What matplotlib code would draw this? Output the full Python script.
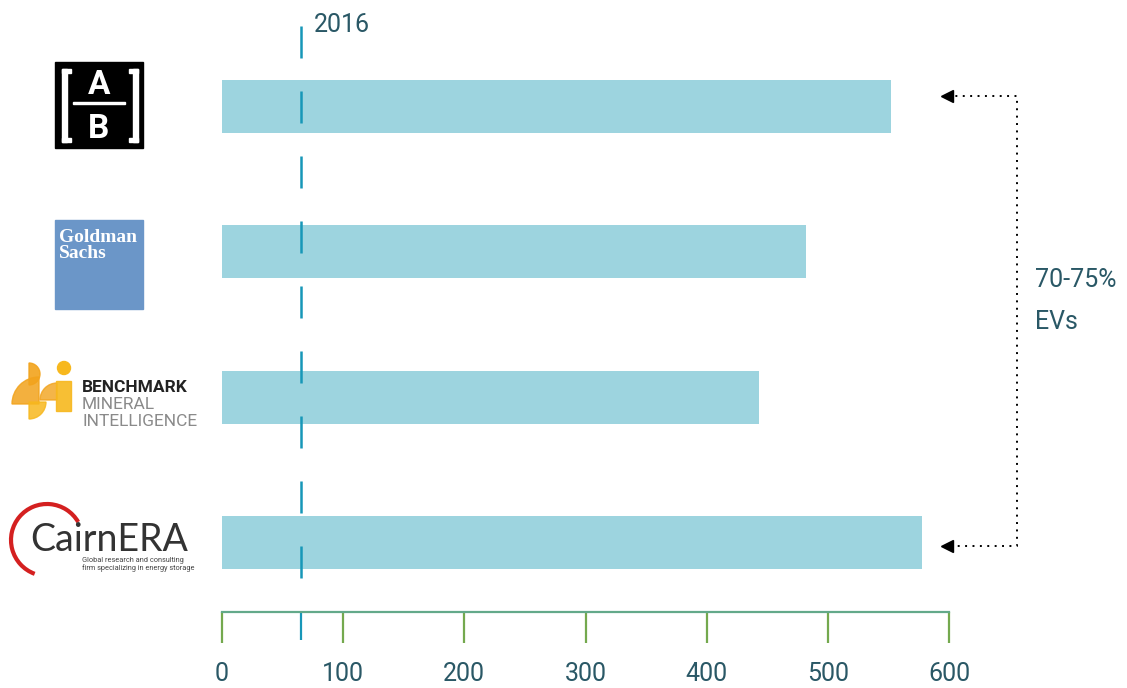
import matplotlib
matplotlib.use("Agg")
import matplotlib.pyplot as plt
from matplotlib.patches import Rectangle, Wedge, Circle, Arc

plt.rcParams['font.family'] = ['Roboto', 'DejaVu Sans']

# data
companies = ["AllianceBernstein", "Goldman Sachs", "Benchmark Mineral Intelligence", "Cairn ERA"]
demand_2030 = [552, 482, 443, 578]
year_2016 = 65
x_ticks = [0, 100, 200, 300, 400, 500, 600]
ev_note = ["70-75%", "EVs"]

W, H = 1127, 688
text_col = "#2a5866"
bar_col = "#9dd4df"
dash_col = "#1797b8"
fs = 18

fig = plt.figure(figsize=(W / 100, H / 100), dpi=100)
ax = fig.add_axes([222 / W, 76 / H, 727 / W, 612 / H])

ypos = [3, 2, 1, 0]
ax.barh(ypos, demand_2030, height=0.364, color=bar_col, zorder=1)
ax.set_xlim(0, 600)
ax.set_ylim(-0.474, 3.728)

# 2016 reference line
ax.plot([year_2016, year_2016], [-0.24, 3.55], color=dash_col, lw=1.8,
        dashes=(12.8, 13.2), zorder=3, clip_on=False)
ax.text(76, 3.556, "2016", color=text_col, fontsize=fs,
        va="center", ha="left")

# axis styling
for s in ["left", "top", "right"]:
    ax.spines[s].set_visible(False)
ax.spines["bottom"].set_color("#63a98a")
ax.spines["bottom"].set_linewidth(1.6)
ax.set_yticks([])
ax.set_xticks(x_ticks)
ax.set_xticklabels([str(t) for t in x_ticks])
ax.tick_params(axis="x", direction="out", length=22.3, width=1.6, color="#74a94e",
               pad=14, labelsize=fs, labelcolor=text_col)
ax.set_xticks([year_2016], minor=True)
ax.tick_params(axis="x", which="minor", length=20, width=1.6, color=dash_col)

# bracket annotation on the right
ax.plot([599, 656, 656, 599], [3.069, 3.069, -0.02, -0.02], color="black",
        lw=1.4, dashes=(1, 2.8), clip_on=False, zorder=4)
ax.plot([598, 598], [3.069, -0.02], marker="<", ms=9, color="black",
        ls="none", clip_on=False, zorder=5)
ax.text(671, 1.805, ev_note[0], color=text_col, fontsize=fs,
        va="center", ha="left")
ax.text(671, 1.517, ev_note[1], color=text_col, fontsize=fs,
        va="center", ha="left")


# logos drawn in pixel coordinates (y from top)
def fx(x):
    return x / W


def fy(y):
    return 1 - y / H


def rect(x0, y0, x1, y1, **kw):
    fig.patches.append(Rectangle((fx(x0), fy(y1)), fx(x1) - fx(x0), fy(y0) - fy(y1),
                                 transform=fig.transFigure, **kw))


# AB logo
rect(55, 62, 143, 148, color="black")
for bx, sgn in [(62, 1), (133, -1)]:
    rect(bx, 69, bx + 5, 142, color="white")
    ex = bx + 5 if sgn > 0 else bx - 4
    rect(min(bx, ex), 69, max(bx + 5, ex + 4), 73, color="white")
    rect(min(bx, ex), 138, max(bx + 5, ex + 4), 142, color="white")
rect(73, 102, 125, 104, color="white")
fig.text(fx(99), fy(85), "A", color="white", fontsize=24, fontweight="bold",
         ha="center", va="center", family="Roboto")
fig.text(fx(99), fy(129), "B", color="white", fontsize=24, fontweight="bold",
         ha="center", va="center", family="Roboto")

# Goldman Sachs logo
rect(55, 220, 143, 309, color="#6b96c8")
fig.text(fx(59), fy(237), "Goldman", color="white", fontsize=14, fontweight="bold",
         ha="left", va="center", family="Liberation Serif")
fig.text(fx(59), fy(254), "Sachs", color="white", fontsize=14, fontweight="bold",
         ha="left", va="center", family="Liberation Serif")

# Benchmark logo (approximate shapes)
orange = "#f2a31c"
yellow = "#f7b81e"
ax_logo = fig.add_axes([fx(8), fy(432), 70 / W, 74 / H])
ax_logo.set_xlim(8, 78)
ax_logo.set_ylim(432, 358)
ax_logo.set_aspect("equal")
ax_logo.axis("off")
ax_logo.add_patch(Wedge((29, 374), 11, -90, 90, color=orange, alpha=0.9))
ax_logo.add_patch(Wedge((39, 404), 27, 180, 270, color=orange, alpha=0.85))
ax_logo.add_patch(Wedge((29, 402), 17, 0, 90, color=yellow, alpha=0.85))
ax_logo.add_patch(Wedge((57, 400), 17, 180, 270, color=orange, alpha=0.8))
ax_logo.add_patch(Rectangle((56, 381), 15, 30, color=yellow, alpha=0.9))
ax_logo.add_patch(Circle((64, 368), 6.5, color=yellow))

fig.text(fx(82), fy(388), "BENCHMARK", color="#222222", fontsize=12.5, fontweight="bold",
         ha="left", va="center", family="Roboto")
fig.text(fx(82), fy(404), "MINERAL", color="#8a8a8a", fontsize=12.5,
         ha="left", va="center", family="Roboto")
fig.text(fx(82), fy(421), "INTELLIGENCE", color="#8a8a8a", fontsize=12.5,
         ha="left", va="center", family="Roboto")

# Cairn ERA logo
ax_c = fig.add_axes([0, fy(590), 200 / W, 100 / H])
ax_c.set_xlim(0, 200)
ax_c.set_ylim(590, 490)
ax_c.set_aspect("equal")
ax_c.axis("off")
ax_c.add_patch(Arc((47, 540), 72, 72, theta1=110, theta2=330, color="#d42020", lw=3))
ax_c.text(30, 540, "CairnERA", color="#333333", fontsize=27, ha="left", va="center",
          family="Lato")
ax_c.text(82, 560, "Global research and consulting", color="#444444", fontsize=5.3,
          ha="left", va="center")
ax_c.text(82, 568, "firm specializing in energy storage", color="#444444", fontsize=5.3,
          ha="left", va="center")

fig.savefig("out.png", dpi=100)
